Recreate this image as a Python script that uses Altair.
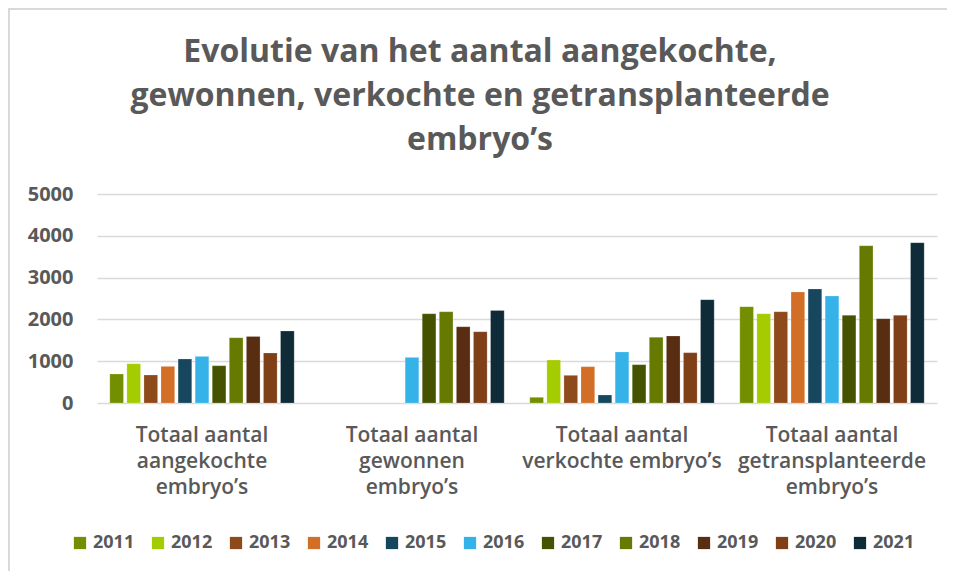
import altair as alt
import pandas as pd

categories = [
    "Totaal aantal|aangekochte|embryo’s",
    "Totaal aantal|gewonnen|embryo’s",
    "Totaal aantal|verkochte embryo’s",
    "Totaal aantal|getransplanteerde|embryo’s",
]
years = ["2011", "2012", "2013", "2014", "2015", "2016", "2017", "2018", "2019", "2020", "2021"]
colors = ["#738F00", "#A5CC00", "#8F4A1C", "#D36E27", "#17475E", "#35B2E8",
          "#455300", "#667A00", "#582D12", "#7F3F17", "#0F2B38"]

# values per year, one per category (None = no bar)
v2011 = [694, None, 136, 2304]
v2012 = [940, None, 1029, 2137]
v2013 = [670, None, 662, 2185]
v2014 = [876, None, 869, 2656]
v2015 = [1053, None, 191, 2727]
v2016 = [1115, 1091, 1220, 2560]
v2017 = [892, 2136, 917, 2097]
v2018 = [1562, 2184, 1571, 3764]
v2019 = [1593, 1825, 1603, 2018]
v2020 = [1196, 1706, 1204, 2097]
v2021 = [1722, 2215, 2472, 3836]

series = [v2011, v2012, v2013, v2014, v2015, v2016, v2017, v2018, v2019, v2020, v2021]
rows = []
for y, vals in zip(years, series):
    for c, v in zip(categories, vals):
        if v is not None:
            rows.append({"cat": c, "year": y, "value": v})
df = pd.DataFrame(rows)

FONT = "Open Sans"
GREY = "#595959"

bars = alt.Chart(df).mark_bar(stroke="white", strokeOpacity=0.4, strokeWidth=0.5).encode(
    x=alt.X("cat:N", sort=categories,
            scale=alt.Scale(paddingInner=0, paddingOuter=0),
            axis=alt.Axis(title=None, labelExpr="split(datum.label, '|')", labelAngle=0,
                          ticks=False, domain=False, labelFontSize=21, labelFontWeight=600,
                          labelColor=GREY, labelFont=FONT, labelPadding=21,
                          labelLineHeight=26, labelBaseline="top", labelLimit=400)),
    xOffset=alt.XOffset("year:N", sort=years,
                        scale=alt.Scale(paddingInner=0.2, paddingOuter=0.75)),
    y=alt.Y("value:Q", scale=alt.Scale(domain=[0, 5000]),
            axis=alt.Axis(title=None, values=[0, 1000, 2000, 3000, 4000, 5000], format="d",
                          ticks=False, domain=False, labelFontSize=20, labelFontWeight="bold",
                          labelColor=GREY, labelFont=FONT, labelPadding=24,
                          gridColor="#d9d9d9", gridWidth=1.5)),
    color=alt.Color("year:N", sort=years,
                    scale=alt.Scale(domain=years, range=colors),
                    legend=alt.Legend(title=None, orient="none", legendX=-26, legendY=340,
                                      direction="horizontal", columns=11,
                                      symbolType="square", symbolSize=150,
                                      symbolStrokeWidth=0, symbolOpacity=1,
                                      labelFontSize=18, labelFontWeight="bold",
                                      labelColor=GREY, labelFont=FONT, labelOffset=4,
                                      columnPadding=14)),
)

one = pd.DataFrame({"a": [0]})
border = alt.Chart(one).mark_rect(
    fill="transparent", stroke="#d9d9d9", strokeWidth=2
).encode(x=alt.value(-88), x2=alt.value(900), y=alt.value(-185), y2=alt.value(420))

chart = alt.layer(border, bars).properties(
    width=840, height=209,
    title=alt.TitleParams(
        ["Evolutie van het aantal aangekochte,",
         "gewonnen, verkochte en getransplanteerde",
         "embryo’s"],
        anchor="middle", frame="group", dx=-37, offset=-149, fontSize=32,
        fontWeight="bold", color=GREY, font=FONT, lineHeight=44),
    autosize=alt.AutoSizeParams(type="none"),
    padding={"left": 89, "top": 186, "right": 10, "bottom": 168},
).configure_view(stroke=None)

chart.save("out.html", embed_options={"renderer": "svg", "actions": False})
